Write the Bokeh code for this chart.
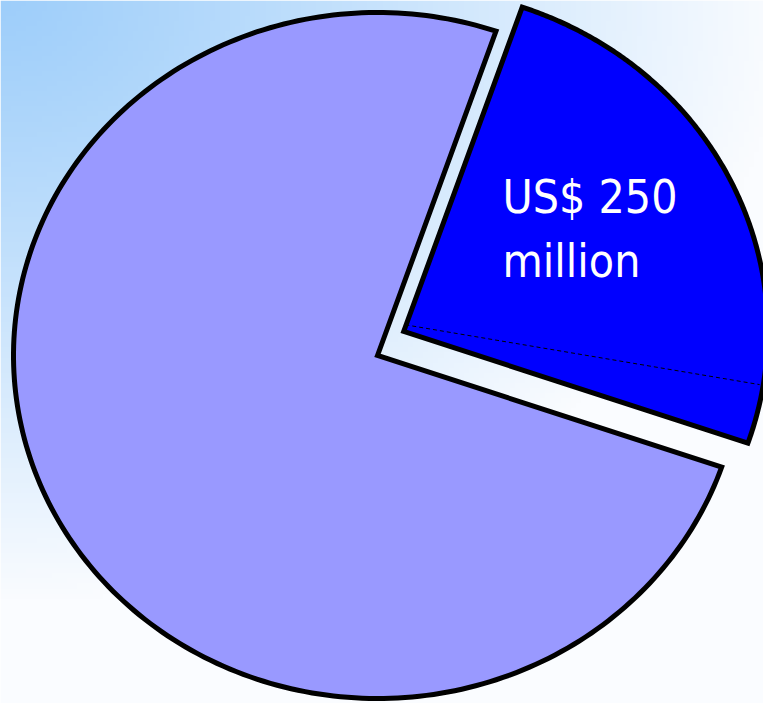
import numpy as np
from bokeh.plotting import figure
from bokeh.models import Range1d, ColumnDataSource
from bokeh.core.properties import value
from bokeh.embed import file_html
from bokeh.resources import INLINE

# ---- data ----
slice_names = ["US$ 250\nmillion", ""]
slice_values = [250, 750]
slice_colors = ["#0000FF", "#9999FF"]
slice_explode = [(0.072, 0.070), (0.0, 0.0)]
start_angle_deg = -19.0
leader_angle_deg = -9.0

# ---- layout ----
W, H = 763, 703
CX, CY = 377.0, 355.0      # pie centre in plot pixels (from top-left)
RX, RY = 364.0, 343.0      # pie radii in pixels
x0, x1 = -CX / RX, (W - CX) / RX
y1, y0 = CY / RY, -(H - CY) / RY

p = figure(width=W, height=H, output_backend="svg", toolbar_location=None,
           x_range=Range1d(x0, x1), y_range=Range1d(y0, y1),
           min_border=0, outline_line_color=None)
p.axis.visible = False
p.grid.visible = False
p.background_fill_color = "white"
p.border_fill_color = "white"

# background gradient (elliptical from top-left corner)
gh, gw = 140, 150
yy, xx = np.mgrid[0:gh, 0:gw]
px = (xx + 0.5) / gw * W
py = (gh - 1 - yy + 0.5) / gh * H
s = np.sqrt((px / 780.0) ** 2 + (py / 600.0) ** 2)
t = np.clip(s, 0, 1) ** 1.1
c0 = np.array([158, 206, 250])
c1 = np.array([250, 252, 255])
img = np.zeros((gh, gw), dtype=np.uint32)
view = img.view(dtype=np.uint8).reshape((gh, gw, 4))
for k in range(3):
    view[:, :, k] = (c0[k] * (1 - t) + c1[k] * t).astype(np.uint8)
view[:, :, 3] = 255
p.image_rgba(image=[img], x=x0, y=y0, dw=x1 - x0, dh=y1 - y0)

# slices
total = float(sum(slice_values))
xs, ys = [], []
a = np.deg2rad(start_angle_deg)
for v, (ox, oy) in zip(slice_values, slice_explode):
    span = 2 * np.pi * v / total
    th = np.linspace(a, a + span, 240)
    xs.append([ox] + list(ox + np.cos(th)) + [ox])
    ys.append([oy] + list(oy + np.sin(th)) + [oy])
    a += span

src = ColumnDataSource(dict(xs=xs, ys=ys, color=slice_colors))
p.patches("xs", "ys", source=src, fill_color="color", line_color="black",
          line_width=5, line_join="miter")

# leader line inside first slice
ox, oy = slice_explode[0]
la = np.deg2rad(leader_angle_deg)
p.line([ox + 0.02 * np.cos(la + 1.5), ox + 0.99 * np.cos(la)],
       [oy + 0.02 * np.sin(la + 1.5), oy + 0.99 * np.sin(la)],
       line_color="black", line_width=1, line_dash="4 3")

# label (one glyph per line)
lines = slice_names[0].split("\n")
lx = (502 - CX) / RX
ly0 = (CY - 196) / RY
dy = 64.0 / RY
p.text(x=[lx] * len(lines), y=[ly0 - i * dy for i in range(len(lines))],
       text=lines, text_color="white",
       text_font=value("'Liberation Sans Narrow', 'DejaVu Sans Condensed', sans-serif"),
       text_font_size="46px",
       text_baseline="alphabetic", text_align="left")

open("out.html", "w").write(file_html(p, INLINE))
